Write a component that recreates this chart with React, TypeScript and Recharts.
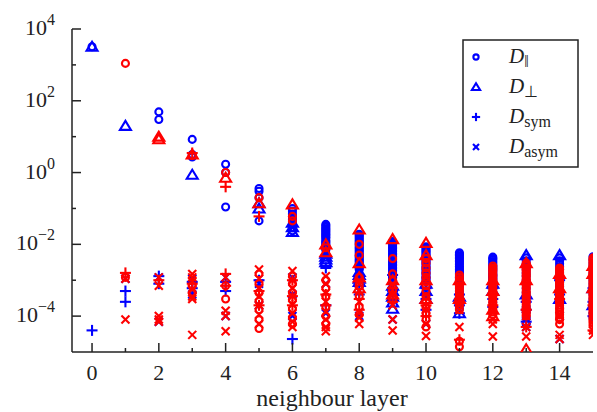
import React from 'react';
import { ScatterChart, Scatter, XAxis, YAxis } from 'recharts';

// values per neighbour layer (index = layer 0..15)
const blueParallel: number[][] = [
  [3200], [], [49, 30], [8.4, 3.2, 2.7], [1.7, 1.0, 0.11], [0.36, 0.3, 0.2, 0.045],
  [0.1, 0.085, 0.07, 0.06, 0.05, 0.042, 0.035, 0.029, 0.024],
  [0.036, 0.033, 0.03, 0.027, 0.025, 0.023, 0.021, 0.019, 0.018, 0.016, 0.015, 0.013, 0.012, 0.011, 0.01, 0.0092, 0.0085, 0.0077, 0.007],
  [0.019, 0.0175, 0.016, 0.0145, 0.013, 0.012, 0.011, 0.01, 0.009, 0.0082, 0.0075, 0.0068, 0.0062, 0.0056, 0.005, 0.0046, 0.0042, 0.0038, 0.0035, 0.0032, 0.0029, 0.0026, 0.0024, 0.0022, 0.002],
  [0.012, 0.011, 0.01, 0.009, 0.0082, 0.0075, 0.0068, 0.0062, 0.0056, 0.0051, 0.0046, 0.0042, 0.0038, 0.0034, 0.0031, 0.0028, 0.0026, 0.0023, 0.0021, 0.0019, 0.0017, 0.0015, 0.0014, 0.0012, 0.0011, 0.001, 0.0009],
  [0.0085, 0.0077, 0.007, 0.0064, 0.0058, 0.0053, 0.0048, 0.0044, 0.004, 0.0036, 0.0033, 0.003, 0.0027, 0.0024, 0.0022, 0.002, 0.0018, 0.0016, 0.0015, 0.0013, 0.0012, 0.0011, 0.001],
  [0.0058, 0.0053, 0.0048, 0.0044, 0.004, 0.0036, 0.0033, 0.003, 0.0027, 0.0024, 0.0022, 0.002, 0.0018, 0.0016, 0.0015, 0.0013, 0.0012, 0.0011, 0.001, 0.0009, 0.0008, 0.00065, 0.0005, 0.0004, 0.0003, 0.00022, 0.00016],
  [0.0044, 0.004, 0.0037, 0.0033, 0.003, 0.0027, 0.0025, 0.0023, 0.0021, 0.0019, 0.0017, 0.0015, 0.0014, 0.0013, 0.0012, 0.0011, 0.001],
  [0.0042, 0.0035, 0.0029, 0.0024, 0.002, 0.0016, 0.0013, 0.001, 0.0008, 0.0006, 0.00045, 0.00034, 0.00025, 0.00018, 0.00013, 0.00009, 0.00006],
  [0.0042, 0.0035, 0.0029, 0.0024, 0.002, 0.0016, 0.0013, 0.00105, 0.00085, 0.00068, 0.00054, 0.00043, 0.00034],
  [0.0045, 0.0037, 0.003, 0.0025, 0.002, 0.0016, 0.0013, 0.001, 0.0008, 0.00065, 0.0005, 0.0004, 0.0003, 0.00023, 0.00017, 0.00012, 0.00009],
];
const bluePerp: number[][] = [
  [3200], [20], [], [0.87], [], [0.14, 0.1], [0.04, 0.03, 0.022],
  [0.0055, 0.0045, 0.0038, 0.0032],
  [0.0017, 0.0014, 0.0011, 0.0009],
  [0.0007, 0.0005, 0.00035, 0.00024, 0.00016],
  [0.0008, 0.0005, 0.0003],
  [0.00035, 0.00012],
  [0.0008, 0.0005],
  [0.005, 0.0004],
  [0.005, 0.0003],
  [0.0006, 0.0002],
];
const blueSym: number[][] = [
  [4e-5], [5e-4, 2.5e-4], [1.3e-3, 8e-4], [9e-4, 6e-4], [9e-4, 5e-4], [1e-3], [2.3e-5],
  [2.2e-3, 2e-4], [1.2e-3, 7e-4, 4e-4], [1.4e-3, 8e-4, 5e-4], [6e-4, 3e-4, 1.5e-4],
  [4e-4, 2e-4, 1.2e-4], [6e-4, 3e-4, 1.8e-4], [2.5e-4, 1.5e-4, 7e-5], [1e-3, 4e-4],
  [6e-4, 2.5e-4, 1e-4],
];
const blueAsym: number[][] = [
  [], [1.1e-3], [1.2e-3, 7e-5], [1.1e-3, 4e-4], [1.2e-3, 1e-4], [8e-4, 2e-4],
  [1.2e-3, 4e-4, 1e-4], [8e-4, 1.2e-4], [5e-4, 1e-4], [1e-3, 8e-5], [5e-4, 6e-5],
  [3e-4, 1.5e-4], [3e-4], [1e-4, 5e-5], [1e-4, 2.3e-5], [1.5e-4],
];
const redParallel: number[][] = [
  [], [1100, 1.2e-3], [], [3.0, 7e-4, 4.5e-4], [1.0, 7e-4, 3e-4],
  [0.2, 1.5e-3, 8e-4, 4.5e-4, 2.6e-4, 1.5e-4, 8e-5, 4.5e-5],
  [0.06, 0.045, 1.3e-3, 8e-4, 4.5e-4, 2.8e-4, 1.6e-4, 9e-5, 6e-5],
  [0.008, 1e-3, 6e-4, 3.5e-4, 1.8e-4, 1e-4, 6e-5],
  [0.01, 0.005, 1.2e-3, 7e-4, 3.5e-4, 1.8e-4, 1.1e-4],
  [0.004, 0.0015, 1e-3, 5e-4, 3e-4],
  [0.004, 0.003, 0.0022, 0.0016, 0.0012, 9e-4, 7e-4, 5e-4, 3.5e-4, 2.5e-4, 1.7e-4, 1.2e-4, 8e-5, 5e-5],
  [1.4e-3, 1.2e-3, 1e-3, 8.5e-4, 7e-4, 6e-4, 5e-4, 4.2e-4, 3.5e-4, 3e-4, 2.5e-4, 2e-4, 1.5e-4, 2e-5, 1.4e-5],
  [0.0025, 0.0022, 0.002, 0.0018, 0.0016, 0.0014, 0.0013, 0.0011, 1e-3, 9e-4, 8e-4, 7e-4, 6e-4, 5.2e-4, 4.5e-4, 4e-4, 3.5e-4, 3e-4, 2.6e-4, 2.3e-4, 2e-4, 1.7e-4, 1.5e-4, 1.3e-4, 1.1e-4],
  [0.003, 0.0027, 0.0025, 0.0022, 0.002, 0.0018, 0.0016, 0.0014, 0.0013, 0.0011, 1e-3, 9e-4, 8e-4, 7e-4, 6e-4, 5e-4, 4.5e-4, 3.9e-4, 3.4e-4, 2.9e-4, 2.5e-4, 2.1e-4, 1.8e-4, 1.5e-4, 1.3e-4, 1.1e-4, 1e-4],
  [0.0022, 0.002, 0.0018, 0.0016, 0.0014, 0.0012, 1.1e-3, 9.5e-4, 8.5e-4, 7.5e-4, 6.5e-4, 5.5e-4, 5e-4, 4.4e-4, 3.8e-4, 3.3e-4, 2.8e-4, 2.4e-4, 2e-4, 1.7e-4, 1.5e-4, 1.3e-4, 1.1e-4, 9e-5, 8e-5, 6e-5],
  [0.0042, 0.0038, 0.0035, 0.0031, 0.0028, 0.0025, 0.0023, 0.002, 0.0018, 0.0016, 0.0015, 0.0013, 0.0012, 1.1e-3, 9.5e-4, 8.5e-4, 7.5e-4, 6.7e-4, 6e-4, 5.3e-4, 4.7e-4, 4.2e-4, 3.7e-4, 3.3e-4, 2.9e-4, 2.5e-4, 2.2e-4, 1.9e-4, 1.7e-4, 1.5e-4, 1.3e-4, 1.15e-4, 1e-4, 8.5e-5, 7.5e-5, 6.5e-5, 5.5e-5],
];
const redPerp: number[][] = [
  [], [], [10, 8.5], [3.2], [0.72], [0.14], [0.13], [0.01, 0.006],
  [0.026, 0.003, 0.0012, 6e-4], [0.014, 0.001, 4e-4], [0.011, 0.005, 1e-3, 3e-4],
  [0.001, 3e-4], [0.001, 5e-4, 1.5e-4, 1e-4], [0.003, 1e-3, 1.2e-5], [0.0015, 6e-4],
  [0.0025, 1.5e-3, 6e-4],
];
const redSym: number[][] = [
  [], [1.6e-3], [1e-3], [3.5, 8e-4], [0.4, 1.5e-3, 7e-4], [0.06, 5e-4, 2e-4],
  [3.6e-4, 1e-3, 2e-4], [4e-4, 2e-4], [3e-4, 1.5e-4], [6e-4, 2.5e-4], [2e-4, 1e-4],
  [2.2e-5, 3e-4], [2e-4], [1.5e-4, 5e-5], [3e-4], [2e-4, 4e-5],
];
const redAsym: number[][] = [
  [], [1.1e-3, 8e-5], [1.2e-3, 7e-4, 1e-4, 8e-5, 7e-5],
  [1.5e-3, 1.2e-3, 9e-4, 5.5e-4, 3.5e-4, 3e-4, 3e-5],
  [1.2e-3, 1.4e-4, 1e-4, 3.8e-5],
  [2e-3, 1.1e-3, 6e-4, 3.5e-4, 2e-4, 1.1e-4, 6e-5],
  [1.8e-3, 1e-3, 6e-4, 3.6e-4, 2.1e-4, 1.2e-4, 7e-5, 5e-5],
  [1.3e-3, 8e-4, 4.5e-4, 2.5e-4, 1.3e-4, 8e-5, 5e-5, 3.8e-5],
  [1e-3, 5e-4, 2.5e-4, 1.3e-4, 9e-5, 6e-5],
  [8e-4, 4e-4, 2e-4, 8e-5, 4e-5],
  [1.5e-4, 6e-5, 2.8e-5], [1.5e-4, 5e-5],
  [8e-5, 6e-5, 2.7e-5], [2e-4, 1e-4, 5e-5, 2.7e-5], [2e-4, 1e-4, 3e-5, 2.3e-5],
  [4e-5, 3e-5],
];

const xTicks = [0, 1, 2, 3, 4, 5, 6, 7, 8, 9, 10, 11, 12, 13, 14];
const yTicks = [1e-4, 1e-3, 1e-2, 1e-1, 1, 10, 100, 1000, 10000];

const BLUE = '#0000ff';
const RED = '#ff0000';
const FRAME = '#222';
const FONT = '"Liberation Serif"';

const toPoints = (cols: number[][]) =>
  cols.flatMap((vals, layer) => vals.map((v) => ({ x: layer, y: v })));

type Kind = 'circle' | 'triangle' | 'plus' | 'cross';

function Marker({ kind, color, cx, cy, s = 1 }: { kind: Kind; color: string; cx: number; cy: number; s?: number }) {
  const sw = 2.1;
  if (kind === 'circle')
    return <circle cx={cx} cy={cy} r={3.5 * s} fill="none" stroke={color} strokeWidth={sw} />;
  if (kind === 'triangle')
    return (
      <polygon
        points={`${cx},${cy - 5 * s} ${cx - 5.5 * s},${cy + 4 * s} ${cx + 5.5 * s},${cy + 4 * s}`}
        fill="none"
        stroke={color}
        strokeWidth={sw}
      />
    );
  if (kind === 'plus')
    return (
      <g stroke={color} strokeWidth={sw}>
        <line x1={cx - 5.5 * s} x2={cx + 5.5 * s} y1={cy} y2={cy} />
        <line x1={cx} x2={cx} y1={cy - 5.5 * s} y2={cy + 5.5 * s} />
      </g>
    );
  return (
    <g stroke={color} strokeWidth={sw}>
      <line x1={cx - 4 * s} x2={cx + 4 * s} y1={cy - 4 * s} y2={cy + 4 * s} />
      <line x1={cx - 4 * s} x2={cx + 4 * s} y1={cy + 4 * s} y2={cy - 4 * s} />
    </g>
  );
}

const shape = (kind: Kind, color: string) => (props: any) =>
  <Marker kind={kind} color={color} cx={props.cx} cy={props.cy} />;

const series: { name: string; data: number[][]; kind: Kind; color: string }[] = [
  { name: 'blueParallel', data: blueParallel, kind: 'circle', color: BLUE },
  { name: 'bluePerp', data: bluePerp, kind: 'triangle', color: BLUE },
  { name: 'blueSym', data: blueSym, kind: 'plus', color: BLUE },
  { name: 'blueAsym', data: blueAsym, kind: 'cross', color: BLUE },
  { name: 'redParallel', data: redParallel, kind: 'circle', color: RED },
  { name: 'redPerp', data: redPerp, kind: 'triangle', color: RED },
  { name: 'redSym', data: redSym, kind: 'plus', color: RED },
  { name: 'redAsym', data: redAsym, kind: 'cross', color: RED },
];

const textStyle = { fontFamily: FONT, fill: '#222' };

const BottomTick = ({ x, y, payload }: any) => {
  const major = payload.value % 2 === 0;
  return (
    <g>
      <line x1={x} x2={x} y1={y} y2={y - (major ? 9 : 4)} stroke={FRAME} strokeWidth={1.5} />
      {major && (
        <text x={x} y={y + 28} textAnchor="middle" fontSize={22} style={textStyle}>
          {payload.value}
        </text>
      )}
    </g>
  );
};

const TopTick = ({ x, y, payload }: any) => {
  const major = payload.value % 2 === 0;
  return <line x1={x} x2={x} y1={y} y2={y + (major ? 9 : 4)} stroke={FRAME} strokeWidth={1.5} />;
};

const LeftTick = ({ x, y, payload }: any) => {
  const e = Math.round(Math.log10(payload.value));
  const major = e % 2 === 0;
  return (
    <g>
      <line x1={x} x2={x + (major ? 9 : 4)} y1={y} y2={y} stroke={FRAME} strokeWidth={1.5} />
      {major && (
        <text x={x - 17} y={y + 6} textAnchor="end" fontSize={22} style={textStyle}>
          <tspan>10</tspan>
          <tspan dy={-10} fontSize={16}>{e < 0 ? `\u2212${-e}` : `${e}`}</tspan>
        </text>
      )}
    </g>
  );
};

const RightTick = ({ x, y, payload }: any) => {
  const e = Math.round(Math.log10(payload.value));
  const major = e % 2 === 0;
  return <line x1={x} x2={x - (major ? 9 : 4)} y1={y} y2={y} stroke={FRAME} strokeWidth={1.5} />;
};

const legendItems: { kind: Kind; sub: string }[] = [
  { kind: 'circle', sub: '\u2016' },
  { kind: 'triangle', sub: '\u22a5' },
  { kind: 'plus', sub: 'sym' },
  { kind: 'cross', sub: 'asym' },
];

export default function App() {
  const W = 597;
  const H = 412;
  const axisLine = { stroke: FRAME, strokeWidth: 1.5 };
  return (
    <div style={{ position: 'absolute', left: 0, top: 0, width: W, height: H, background: '#fff' }}>
      <ScatterChart width={W} height={H} margin={{ top: 29, right: 4, bottom: 0, left: 0 }}>
        <XAxis
          type="number"
          dataKey="x"
          domain={[-0.6, 15]}
          ticks={xTicks}
          interval={0}
          allowDataOverflow
          tickLine={false}
          tickSize={0}
          tickMargin={0}
          height={60}
          axisLine={axisLine}
          tick={<BottomTick />}
        />
        <XAxis
          xAxisId="top"
          orientation="top"
          type="number"
          dataKey="x"
          domain={[-0.6, 15]}
          ticks={xTicks}
          interval={0}
          allowDataOverflow
          tickLine={false}
          tickSize={0}
          tickMargin={0}
          height={0}
          axisLine={axisLine}
          tick={<TopTick />}
        />
        <YAxis
          type="number"
          dataKey="y"
          scale="log"
          domain={[1e-5, 1e4]}
          ticks={yTicks}
          interval={0}
          allowDataOverflow
          tickLine={false}
          tickSize={0}
          tickMargin={0}
          width={72}
          axisLine={axisLine}
          tick={<LeftTick />}
        />
        <YAxis
          yAxisId="right"
          orientation="right"
          type="number"
          dataKey="y"
          scale="log"
          domain={[1e-5, 1e4]}
          ticks={yTicks}
          interval={0}
          allowDataOverflow
          tickLine={false}
          tickSize={0}
          tickMargin={0}
          width={0}
          axisLine={axisLine}
          tick={<RightTick />}
        />
        {series.map((s) => (
          <Scatter
            key={s.name}
            name={s.name}
            data={toPoints(s.data)}
            shape={shape(s.kind, s.color)}
            isAnimationActive={false}
          />
        ))}
      </ScatterChart>
      <svg width={W} height={H} style={{ position: 'absolute', left: 0, top: 0, pointerEvents: 'none' }}>
        <text x={332} y={406} textAnchor="middle" fontSize={24} style={textStyle}>
          neighbour layer
        </text>
        <rect x={463} y={40} width={115} height={127} fill="#fff" stroke={FRAME} strokeWidth={1.5} />
        {legendItems.map((item, i) => {
          const cy = 57 + i * 30;
          return (
            <g key={item.sub}>
              <Marker kind={item.kind} color={BLUE} cx={476} cy={cy} s={0.75} />
              <text x={509} y={cy + 6} fontSize={21} style={textStyle}>
                <tspan fontStyle="italic">D</tspan>
                <tspan dy={4} fontSize={16}>{item.sub}</tspan>
              </text>
            </g>
          );
        })}
      </svg>
    </div>
  );
}
